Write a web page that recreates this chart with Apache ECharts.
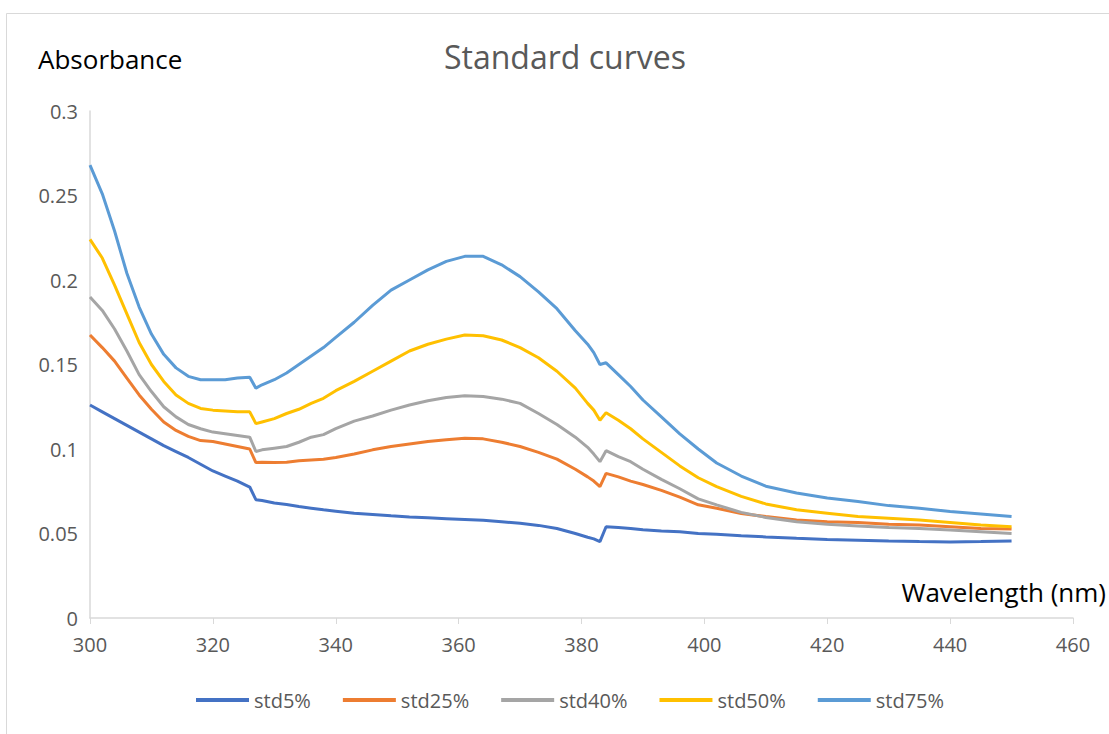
<!DOCTYPE html>
<html><head><meta charset="utf-8">
<script src="https://cdn.jsdelivr.net/npm/echarts@6/dist/echarts.min.js"></script>
<style>html,body{margin:0;padding:0;background:#fff}#c{width:1109px;height:734px}</style>
</head><body><div id="c"></div>
<script>
const wavelengths = [300,302,304,306,308,310,312,314,316,318,320,322,324,326,327,328,330,332,334,336,338,340,343,346,349,352,355,358,361,364,367,370,373,376,379,381,382,383,384,386,388,390,393,396,399,402,406,410,415,420,425,430,435,440,445,450];
const std5 = [0.126,0.122,0.118,0.114,0.110,0.106,0.102,0.0985,0.095,0.091,0.087,0.084,0.081,0.0775,0.070,0.0695,0.068,0.0672,0.066,0.065,0.064,0.0632,0.062,0.0613,0.0605,0.0598,0.0593,0.0588,0.0583,0.0578,0.057,0.056,0.0548,0.053,0.050,0.0478,0.0468,0.0452,0.054,0.0535,0.053,0.0522,0.0515,0.051,0.050,0.0495,0.0487,0.048,0.0472,0.0465,0.046,0.0455,0.0452,0.045,0.0452,0.0455];
const std25 = [0.1675,0.160,0.152,0.142,0.132,0.1235,0.116,0.111,0.1075,0.105,0.1044,0.103,0.1015,0.100,0.092,0.0922,0.092,0.0922,0.093,0.0935,0.094,0.095,0.097,0.0995,0.1015,0.103,0.1045,0.1055,0.1063,0.106,0.104,0.1015,0.098,0.094,0.088,0.0835,0.081,0.0777,0.0856,0.0835,0.081,0.079,0.0755,0.0715,0.067,0.0649,0.0618,0.060,0.058,0.057,0.0565,0.0555,0.055,0.054,0.053,0.0527];
const std40 = [0.190,0.182,0.171,0.158,0.144,0.134,0.125,0.119,0.1145,0.112,0.110,0.109,0.108,0.107,0.0985,0.0995,0.1005,0.1015,0.104,0.107,0.1085,0.112,0.1165,0.1195,0.123,0.126,0.1285,0.1305,0.1315,0.131,0.1295,0.127,0.121,0.1145,0.107,0.101,0.097,0.0925,0.099,0.0955,0.0925,0.088,0.082,0.0765,0.0705,0.0669,0.0625,0.0595,0.057,0.0555,0.0545,0.0535,0.053,0.052,0.051,0.050];
const std50 = [0.224,0.213,0.197,0.180,0.163,0.150,0.140,0.132,0.127,0.124,0.123,0.1225,0.122,0.122,0.115,0.116,0.118,0.121,0.1235,0.127,0.130,0.1345,0.140,0.146,0.152,0.158,0.162,0.165,0.1675,0.167,0.1645,0.160,0.154,0.146,0.136,0.127,0.123,0.117,0.1215,0.117,0.112,0.106,0.098,0.090,0.083,0.0777,0.072,0.0675,0.064,0.062,0.060,0.059,0.058,0.0565,0.055,0.054];
const std75 = [0.268,0.251,0.229,0.204,0.184,0.168,0.156,0.148,0.143,0.141,0.141,0.141,0.142,0.1425,0.136,0.138,0.141,0.145,0.150,0.155,0.160,0.166,0.175,0.185,0.194,0.200,0.206,0.211,0.214,0.214,0.209,0.202,0.193,0.183,0.170,0.162,0.157,0.150,0.151,0.144,0.137,0.129,0.119,0.109,0.100,0.0917,0.084,0.078,0.074,0.071,0.069,0.0665,0.065,0.063,0.0615,0.060];
const seriesNames = ['std5%','std25%','std40%','std50%','std75%'];
const seriesValues = [std5, std25, std40, std50, std75];
const colors = ['#4472C4','#ED7D31','#A5A5A5','#FFC000','#5B9BD5'];

const FONT = 'Open Sans';
const chart = echarts.init(document.getElementById('c'), null, {renderer:'svg'});
chart.setOption({
  animation:false,
  backgroundColor:'#fff',
  title:{text:'Standard curves', left:439, top:35, textStyle:{fontFamily:FONT, fontSize:32, fontWeight:'normal', color:'#595959'}},
  grid:{left:90, right:36, top:111, bottom:116},
  legend:{bottom:19, left:191, itemGap:32, itemWidth:53, itemHeight:4, icon:'rect',
    textStyle:{fontFamily:FONT, fontSize:20, color:'#595959'}, data:seriesNames},
  xAxis:{type:'value', min:300, max:460, interval:20,
    axisLine:{lineStyle:{color:'#d9d9d9', width:1.5}},
    axisTick:{show:true, length:6, lineStyle:{color:'#d9d9d9'}},
    splitLine:{show:false},
    axisLabel:{fontFamily:FONT, fontSize:20, color:'#595959', margin:16}},
  yAxis:{type:'value', min:0, max:0.3, interval:0.05,
    axisLine:{show:true, lineStyle:{color:'#d9d9d9', width:1.5}},
    axisTick:{show:false}, splitLine:{show:false},
    axisLabel:{fontFamily:FONT, fontSize:20, color:'#595959', margin:12}},
  graphic:[
    {type:'rect', left:4, top:11, shape:{width:1200, height:800}, style:{fill:'none', stroke:'#d9d9d9', lineWidth:1}, silent:true, z:-10},
    {type:'text', left:38, top:46, style:{text:'Absorbance', fontFamily:FONT, fontSize:26, fill:'#000'}},
    {type:'text', right:3, top:579, style:{text:'Wavelength (nm)', fontFamily:FONT, fontSize:26, fill:'#000'}}
  ],
  series: seriesNames.map((n,i)=>({
    name:n, type:'line', showSymbol:false, symbol:'none',
    data: wavelengths.map((w,j)=>[w, seriesValues[i][j]]),
    lineStyle:{width:3, color:colors[i]}, itemStyle:{color:colors[i]}
  }))
});
</script></body></html>
